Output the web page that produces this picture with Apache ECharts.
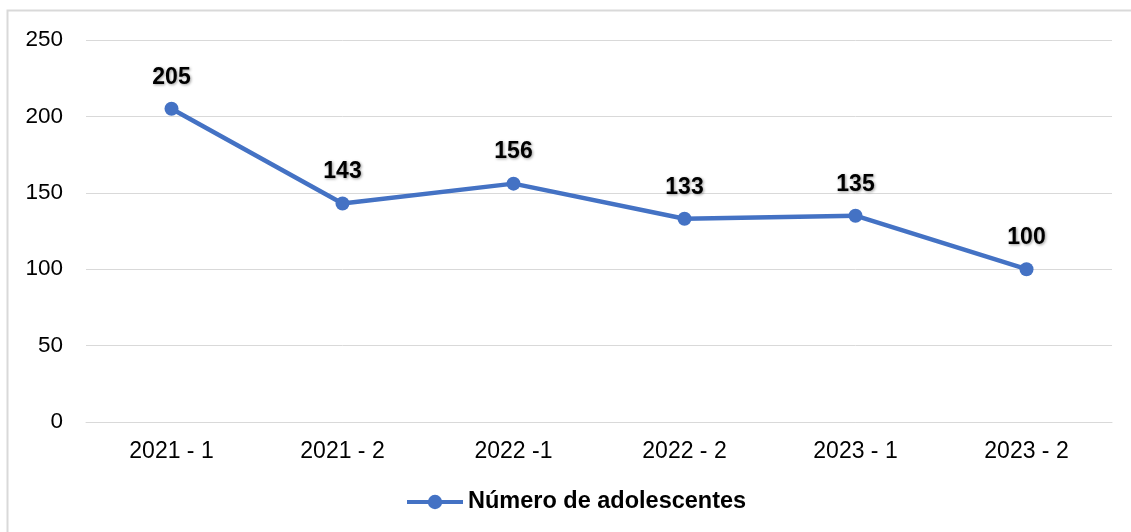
<!DOCTYPE html>
<html>
<head>
<meta charset="utf-8">
<script src="https://cdn.jsdelivr.net/npm/echarts@6/dist/echarts.min.js"></script>
<style>
  html, body { margin: 0; padding: 0; background: #fff; }
  #main { width: 1131px; height: 532px; }
</style>
</head>
<body>
<div id="main"></div>
<script>
var periodos = ['2021 - 1', '2021 - 2', '2022 -1', '2022 - 2', '2023 - 1', '2023 - 2'];
var adolescentes = [205, 143, 156, 133, 135, 100];
var serieNombre = 'Número de adolescentes';

var myChart = echarts.init(document.getElementById('main'));
var option = {
    backgroundColor: '#fff',
    textStyle: { fontFamily: 'Liberation Sans, Arial, sans-serif' },
    graphic: [{
        type: 'rect',
        shape: { x: 7.5, y: 10.5, width: 1140, height: 540 },
        style: { fill: 'none', stroke: '#d9d9d9', lineWidth: 2 },
        silent: true
    }],
    grid: { left: 86, right: 19, top: 40, bottom: 110, containLabel: false },
    legend: {
        top: 485,
        left: 400,
        data: [serieNombre],
        itemWidth: 56,
        itemHeight: 18,
        itemGap: 6,
        lineStyle: { width: 4 },
        textStyle: { fontSize: 23.5, fontWeight: 'bold', color: '#000' }
    },
    xAxis: {
        type: 'category',
        data: periodos,
        boundaryGap: true,
        axisLine: { show: true, lineStyle: { color: '#d9d9d9', width: 1 } },
        axisTick: { show: false },
        axisLabel: { fontSize: 23, color: '#000', margin: 18 }
    },
    yAxis: {
        type: 'value',
        min: 0,
        max: 250,
        interval: 50,
        axisLine: { show: false },
        axisTick: { show: false },
        splitLine: { lineStyle: { color: '#d9d9d9', width: 1 } },
        axisLabel: { fontSize: 22.5, color: '#000', margin: 23 }
    },
    series: [{
        name: serieNombre,
        type: 'line',
        data: adolescentes,
        symbol: 'circle',
        symbolSize: 14,
        lineStyle: { width: 4.5, color: '#4472C4' },
        itemStyle: { color: '#4472C4' },
        label: {
            show: true,
            position: 'top',
            distance: 13,
            fontSize: 23,
            fontWeight: 'bold',
            color: '#000',
            textShadowColor: 'rgba(0,0,0,0.4)',
            textShadowBlur: 3,
            textShadowOffsetX: 1,
            textShadowOffsetY: 1
        }
    }]
};
myChart.setOption(option, true);
</script>
</body>
</html>
